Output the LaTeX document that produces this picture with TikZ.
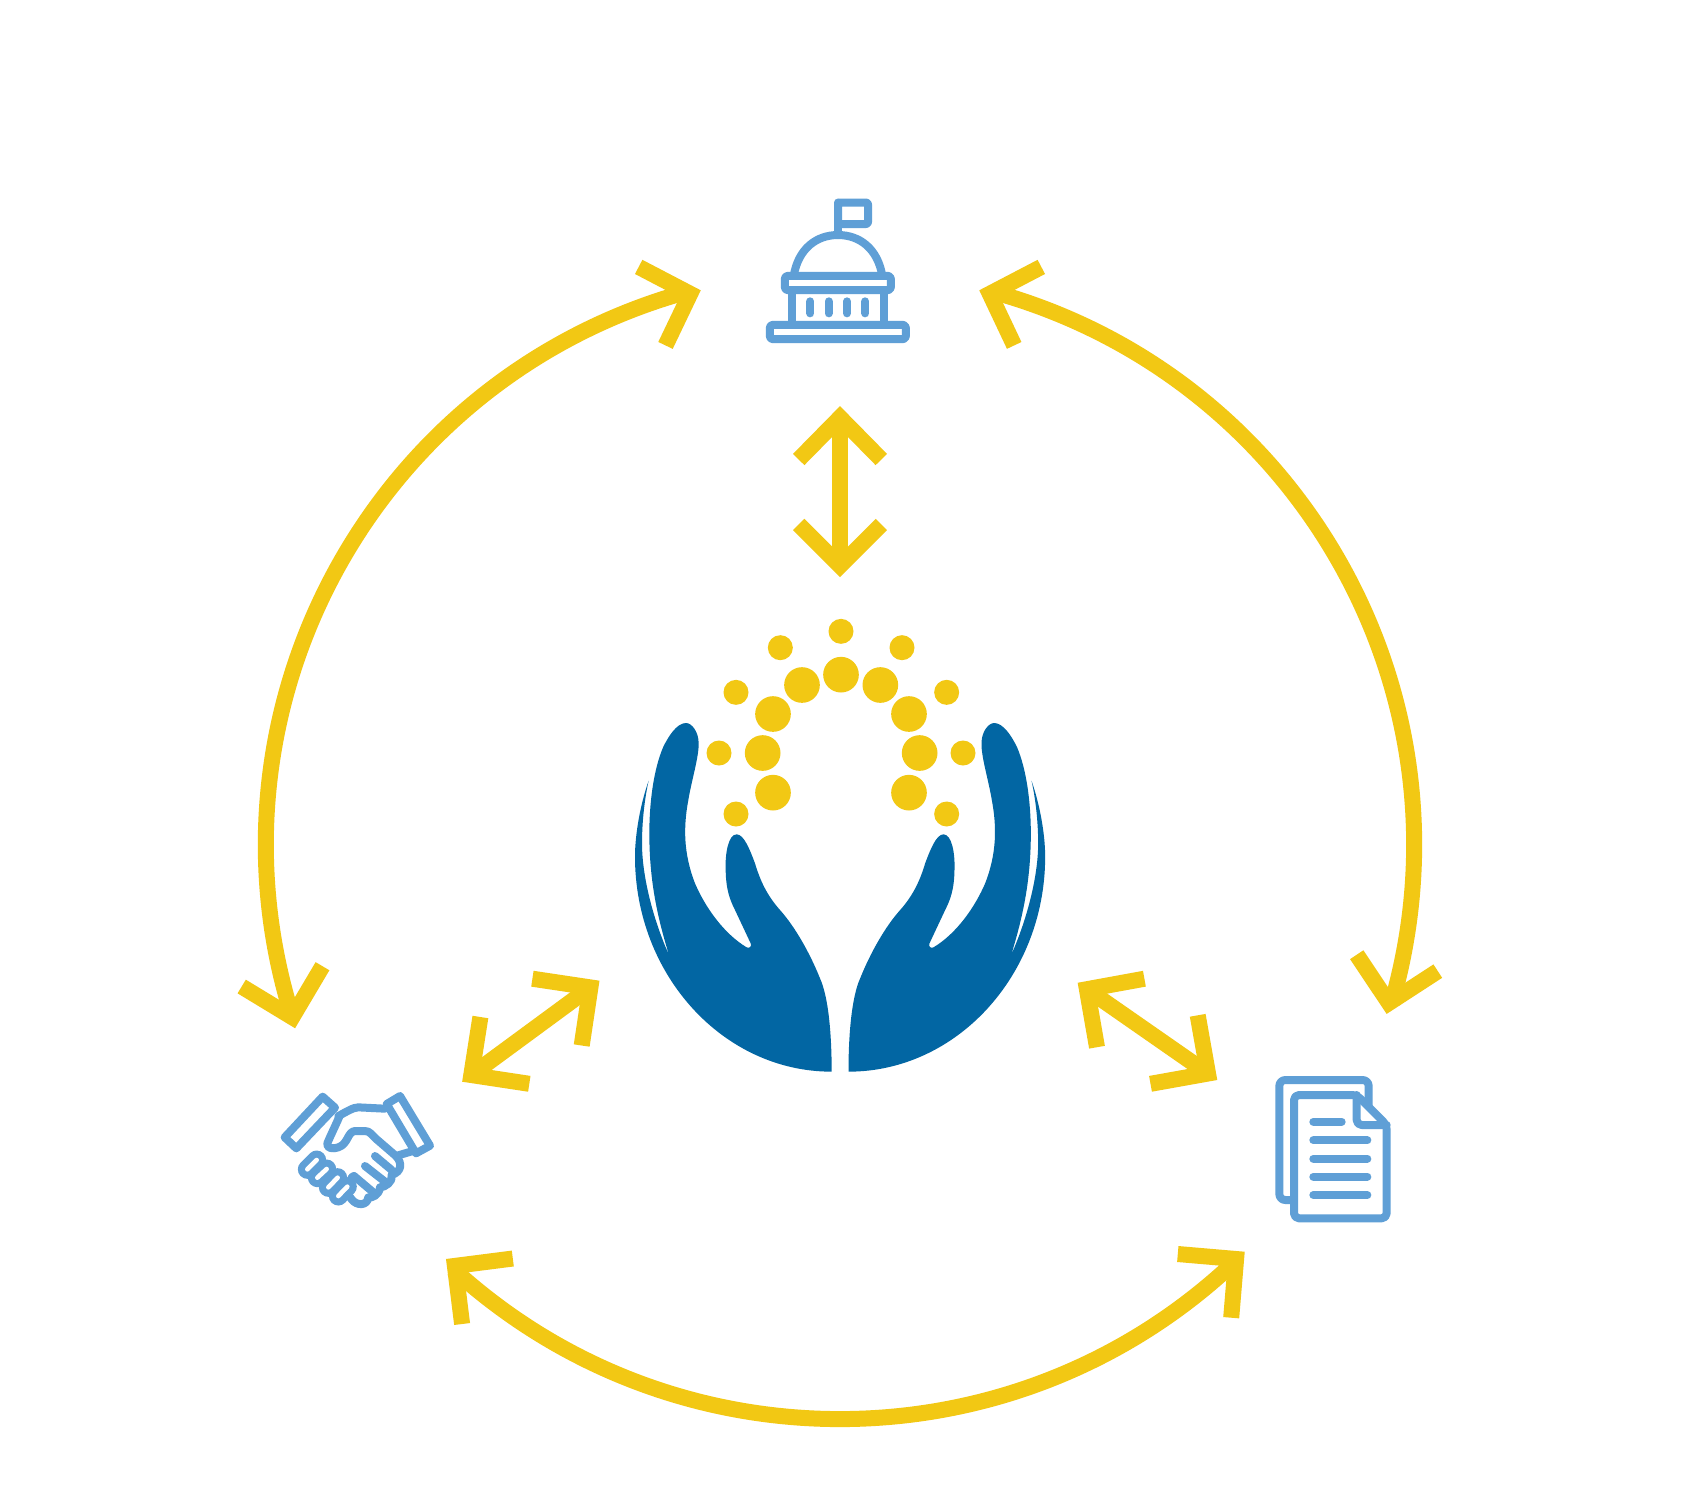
\documentclass[tikz,border=0pt]{standalone}
\definecolor{ringgold}{HTML}{F2C814}
\definecolor{handblue}{HTML}{0266A3}
\definecolor{iconblue}{HTML}{5F9FD6}
\tikzset{
  ringshaft/.style={draw=ringgold,line width=8pt,line cap=butt},
  ringtip/.style={draw=ringgold,line width=8pt,line join=miter,miter limit=10},
  innershaft/.style={draw=ringgold,line width=8pt,line cap=butt},
  icon/.style={draw=iconblue,line width=4pt,line join=round,line cap=round},
  handfill/.style={fill=handblue},
  bigdot/.style={fill=ringgold},
}
\newcommand{\handshape}{%
  \fill[handfill] (635,1415) .. controls (635,1300) and (625,1190) .. (600,1135)
    .. controls (570,1060) and (525,980) .. (480,930)
    .. controls (440,885) and (420,840) .. (405,790)
    .. controls (390,750) and (372,703) .. (350,703)
    .. controls (325,703) and (315,760) .. (317,810)
    .. controls (318,870) and (330,900) .. (345,930)
    -- (392,1030) .. controls (396,1040) and (388,1046) .. (380,1042)
    .. controls (310,1000) and (255,920) .. (225,850)
    .. controls (190,760) and (190,680) .. (205,600)
    .. controls (215,540) and (237,470) .. (236,430)
    .. controls (236,395) and (215,369) .. (198,369)
    .. controls (170,369) and (145,410) .. (130,440)
    .. controls (100,510) and (88,610) .. (88,700)
    .. controls (88,850) and (115,960) .. (147,1065)
    .. controls (100,960) and (66,830) .. (66,730)
    .. controls (66,660) and (75,590) .. (86,542)
    .. controls (62,610) and (45,700) .. (45,770)
    .. controls (45,1125) and (310,1415) .. (635,1415) -- cycle;
}
\begin{document}
\begin{tikzpicture}[x=0.5pt,y=-0.5pt]
\useasboundingbox (0,0) rectangle (1704,1496);
\fill[white] (0,0) rectangle (1704,1496);

% ---- outer ring arrows ----
\coordinate (lA) at (292.4,1017.1);
\coordinate (lB) at (689.5,291.1);
\coordinate (rA) at (990.5,291.1);
\coordinate (rB) at (1391.6,1003.7);
\coordinate (bA) at (1236.6,1260);
\coordinate (bB) at (452.9,1268.9);
\draw[ringshaft] (lA) .. controls (194.7,706.2) and (375,376.6) .. (lB);
\draw[ringshaft] (rA) .. controls (1299.7,375.1) and (1480.2,695.8) .. (rB);
\draw[ringshaft] (bA) .. controls (1018.3,1468.6) and (675.9,1472.5) .. (bB);

\draw[ringtip] (638.7,266.9) -- (690.2,293.8) -- (665.5,345.4);
\draw[ringtip] (241.7,986.5) -- (292.3,1017.2) -- (322.5,966.2);
\draw[ringtip] (1041.3,266.9) -- (989.8,293.8) -- (1014.2,345.4);
\draw[ringtip] (1356.7,954.7) -- (1388.9,1002.9) -- (1437.8,971.1);
\draw[ringtip] (512.8,1258.5) -- (454.9,1265.9) -- (462.1,1324);
\draw[ringtip] (1177.8,1254) -- (1236.1,1259) -- (1231.2,1317.7);

% ---- inner arrows ----
\coordinate (vT) at (840,417.5);
\coordinate (vB) at (840,565.8);
\draw[innershaft] (vT) -- (vB);
\draw[ringtip] (798.7,459.5) -- (vT) -- (881.3,459.5);
\draw[ringtip] (798.7,524.5) -- (vB) -- (881.3,524.5);

\coordinate (dlT) at (590.4,987.4);
\coordinate (dlB) at (471.3,1075);
\draw[innershaft] (dlT) -- (dlB);
\draw[ringtip] (532.4,978.7) -- (dlT) -- (581.7,1045.5);
\draw[ringtip] (480.4,1017) -- (dlB) -- (529.3,1083.8);

\coordinate (drT) at (1086.9,989.2);
\coordinate (drB) at (1208,1073.5);
\draw[innershaft] (drT) -- (drB);
\draw[ringtip] (1144.4,978.7) -- (drT) -- (1097,1047.2);
\draw[ringtip] (1197.7,1015.3) -- (drB) -- (1150.5,1083.8);

% ---- hands and dots ----
\begin{scope}[shift={(620,600)},scale=0.33333]
  \handshape
  \begin{scope}[shift={(1320.5,0)},xscale=-1]
    \handshape
  \end{scope}
  \foreach \px/\py in {663/224,546/255,781/255,459/342,867/342,428/459,899/459,459/578,867/578}
    \fill[bigdot] (\px,\py) circle[radius=53.5];
  \foreach \px/\py in {663/94,481/143,846/143,348/277,980/277,297/459,1029/459,348/642,980/642}
    \fill[bigdot] (\px,\py) circle[radius=37.5];
\end{scope}

% ---- capitol ----
\begin{scope}[shift={(740,180)},scale=0.33333]
  \draw[icon,rounded corners=1pt] (294.5,67.5) rectangle (384,132);
  \draw[icon] (294.5,67.5) -- (294.5,165);
  \draw[icon] (161,288) .. controls (175,205) and (230,165) .. (294,165) .. controls (358,165) and (413,205) .. (427,288);
  \draw[icon,rounded corners=1.5pt,fill=white] (134.5,287.5) rectangle (452.5,330.5);
  \draw[icon,line cap=butt] (156,330) -- (156,434);
  \draw[icon,line cap=butt] (431,330) -- (431,434);
  \draw[icon,rounded corners=1.5pt,fill=white] (89.5,434.5) rectangle (497.5,477.5);
  \foreach \px in {211,266,321,376}
    \draw[icon] (\px,364) -- (\px,400);
\end{scope}

% ---- handshake ----
\begin{scope}[shift={(270,1080)},scale=0.33333]
  \draw[icon] (158,50) -- (195,83) -- (79,205) -- (44,172) -- cycle;
  \draw[icon] (350,72) -- (390,48) -- (480,197) -- (438,220) -- cycle;
  \draw[icon] (205,108) .. controls (230,95) and (250,82) .. (265,82) -- (345,86);
  \draw[icon] (208,110) .. controls (195,140) and (180,170) .. (172,190) .. controls (168,205) and (190,208) .. (205,202) .. controls (235,192) and (232,155) .. (255,153) -- (285,153) .. controls (300,153) and (305,165) .. (320,178) -- (378,228) -- (432,212);
  % left-hand fingers
  \foreach \ax/\ay/\bx/\by in {112/268/140/240,142/293/170/267,175/322/203/293,205/348/232/320}{
    \draw[draw=iconblue,line width=9.5pt,line cap=round] (\ax,\ay) -- (\bx,\by);
  }
  \foreach \ax/\ay/\bx/\by in {112/268/140/240,142/293/170/267,175/322/203/293,205/348/232/320}{
    \draw[draw=white,line width=2.3pt,line cap=round] (\ax,\ay) -- (\bx,\by);
  }
  % right-hand fingers
  \draw[icon] (378,228) .. controls (398,250) and (395,275) .. (365,285) .. controls (370,305) and (345,322) .. (330,322) .. controls (328,345) and (305,355) .. (295,352) .. controls (292,378) and (260,378) .. (245,358) -- (235,345);
  \draw[icon] (315,228) -- (365,270);
  \draw[icon] (285,258) -- (345,305);
  \draw[icon] (252,288) -- (310,337);
  \draw[icon] (245,292) -- (252,288);
\end{scope}

% ---- documents ----
\begin{scope}[shift={(1260,1060)},scale=0.33333]
  \draw[icon,rounded corners=3pt] (100,420) -- (58,420) -- (58,60) -- (326,60) -- (326,135);
  \draw[icon,rounded corners=2.5pt,fill=white] (102,475) -- (102,105) -- (290,105) -- (380,195) -- (380,475) -- cycle;
  \draw[icon,rounded corners=2.5pt] (290,105) -- (290,195) -- (380,195);
  \draw[icon] (160,185) -- (245,185);
  \foreach \py in {241,296,350,405}
    \draw[icon] (160,\py) -- (322,\py);
\end{scope}
\end{tikzpicture}
\end{document}
